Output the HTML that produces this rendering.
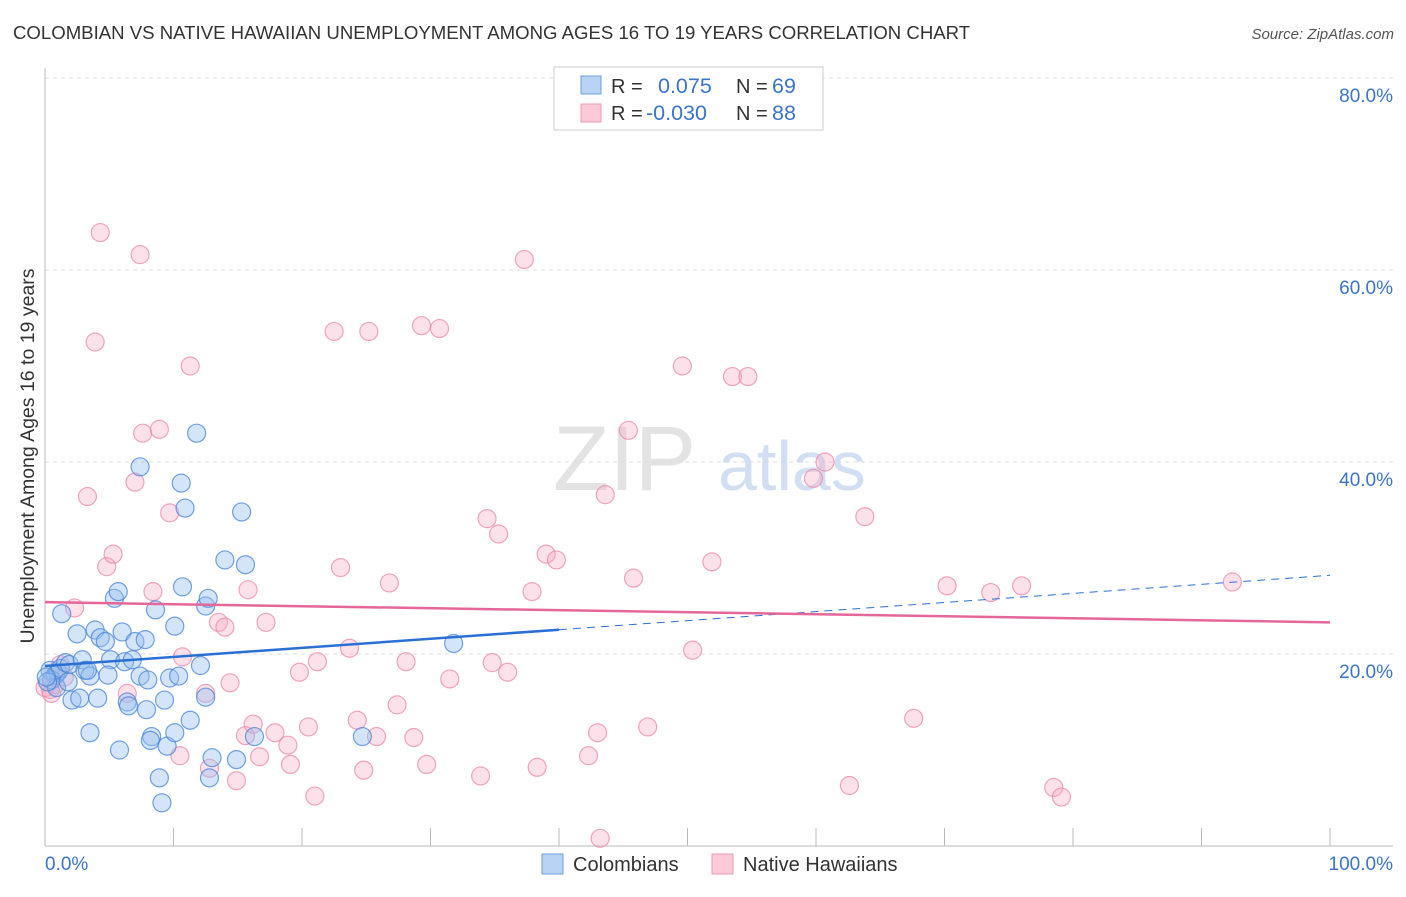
<!DOCTYPE html>
<html><head><meta charset="utf-8"><style>
body{margin:0;background:#fff;font-family:"Liberation Sans",sans-serif}
svg text{font-family:"Liberation Sans",sans-serif}
</style></head><body>
<svg id="chart" width="1406" height="892" viewBox="0 0 1406 892" xmlns="http://www.w3.org/2000/svg">
<text x="13" y="39" font-size="18.6" fill="#333">COLOMBIAN VS NATIVE HAWAIIAN UNEMPLOYMENT AMONG AGES 16 TO 19 YEARS CORRELATION CHART</text>
<text x="1394" y="39" font-size="15" fill="#555" text-anchor="end" font-style="italic">Source: ZipAtlas.com</text>
<g id="grid"></g>
<text x="553" y="490" font-size="92" fill="#ddd" font-family="Liberation Serif" opacity="0.8">ZIP</text>
<text x="718" y="490" font-size="70" fill="#c8d8ef" opacity="0.8">atlas</text>
<g id="pts"></g>
<g id="lines"></g>
<text transform="translate(34,456) rotate(-90)" font-size="19.5" fill="#333" text-anchor="middle">Unemployment Among Ages 16 to 19 years</text>
<text x="45" y="870" font-size="19" fill="#3b74c9">0.0%</text>
<text x="1393" y="870" font-size="19" fill="#3b74c9" text-anchor="end">100.0%</text>
<g>
<rect x="554" y="67" width="269" height="63" fill="#fff" stroke="#ccc"/>
<rect x="581" y="76" width="20" height="18" fill="#b9d3f4" stroke="#6d9ee0"/>
<rect x="581" y="104" width="20" height="18" fill="#fcc9d8" stroke="#ec9ab4"/>
<text x="611" y="93" font-size="20" fill="#333">R =</text>
<text x="658" y="93" font-size="21.5" fill="#3b74c9">0.075</text>
<text x="736" y="93" font-size="20" fill="#333">N =</text>
<text x="772" y="93" font-size="21.5" fill="#3b74c9">69</text>
<text x="611" y="120" font-size="20" fill="#333">R =</text>
<text x="646" y="120" font-size="21.5" fill="#3b74c9">-0.030</text>
<text x="736" y="120" font-size="20" fill="#333">N =</text>
<text x="772" y="120" font-size="21.5" fill="#3b74c9">88</text>
</g>
<g>
<rect x="542" y="854" width="21" height="20" fill="#b9d3f4" stroke="#6d9ee0"/>
<text x="573" y="871" font-size="20" fill="#333">Colombians</text>
<rect x="712" y="854" width="21" height="20" fill="#fcc9d8" stroke="#ec9ab4"/>
<text x="743" y="871" font-size="20" fill="#333">Native Hawaiians</text>
</g>
</svg>
<script>
const yTicks=[20,40,60,80];
const yTickLabels=["20.0%","40.0%","60.0%","80.0%"];
const xTicks=[10,20,30,40,50,60,70,80,90,100];
const blueX=[0.4,0.8,0.5,1.0,1.2,1.6,1.9,1.3,2.5,2.9,3.1,3.5,3.9,4.3,4.7,5.1,4.9,2.1,2.7,4.1,3.5,5.4,5.7,6.0,6.2,6.8,7.0,7.4,7.8,8.0,6.4,6.5,7.9,8.3,8.2,8.6,8.9,9.1,9.3,9.7,10.1,10.4,10.7,10.9,11.3,11.8,12.1,12.5,12.7,12.5,13.0,12.8,14.0,14.9,15.3,15.6,16.3,24.7,31.8,7.4,10.6,9.5,10.1,5.8,3.3,0.9,1.8,0.2,0.1];
const blueY=[18.3,17.8,17.3,18.1,18.5,19.1,18.9,24.2,22.1,19.4,18.3,17.7,22.5,21.7,21.3,19.4,17.8,15.2,15.4,15.4,11.8,25.8,26.5,22.3,19.2,19.4,21.3,17.7,21.5,17.3,15.0,14.6,14.2,11.4,11.0,24.6,7.1,4.5,15.2,17.5,22.9,17.7,27.0,35.2,13.1,43.0,18.8,25.0,25.8,15.5,9.2,7.1,29.8,9.0,34.8,29.3,11.4,11.4,21.1,39.5,37.8,10.4,11.8,10.0,18.3,16.5,17.1,17.1,17.6];
const pinkX=[0.4,0.8,1.2,2.3,3.3,3.9,4.3,4.8,5.3,6.4,7.0,7.4,7.6,8.4,8.9,9.7,10.5,10.7,11.3,12.5,12.8,13.5,14.0,14.4,14.9,15.6,15.8,16.2,16.7,17.2,17.9,18.9,19.1,19.8,20.5,21.0,21.2,22.5,23.0,23.7,24.3,24.8,25.2,25.8,26.8,27.4,28.1,28.7,29.3,29.7,30.7,31.5,33.9,34.4,34.8,35.3,36.0,37.3,37.9,38.3,39.0,39.8,42.3,43.0,43.2,43.6,45.4,45.8,46.9,49.6,50.4,51.9,53.5,54.7,59.8,60.7,62.6,63.8,67.6,70.2,73.6,76.0,78.5,79.1,92.4,0.0,0.5,1.5];
const pinkY=[16.3,16.8,18.9,24.8,36.4,52.5,63.9,29.1,30.4,15.9,37.9,61.6,43.0,26.5,43.4,34.7,9.4,19.7,50.0,15.9,8.1,23.3,22.8,17.0,6.8,11.5,26.7,12.7,9.3,23.3,11.8,10.5,8.5,18.1,12.4,5.2,19.2,53.6,29.0,20.6,13.1,7.9,53.6,11.4,27.4,14.7,19.2,11.3,54.2,8.5,53.9,17.4,7.3,34.1,19.1,32.5,18.1,61.1,26.5,8.2,30.4,29.8,9.4,11.8,0.8,36.6,43.3,27.9,12.4,50.0,20.4,29.6,48.9,48.9,38.3,40.0,6.3,34.3,13.3,27.1,26.4,27.1,6.1,5.1,27.5,16.5,15.9,17.6];
const blueTrend=[18.75,28.2];
const pinkTrend=[25.4,23.3];
const NS="http://www.w3.org/2000/svg";
const X0=45,X1=1330,Y0=846,PPY=9.6;
function sx(v){return X0+(X1-X0)*v/100;}
function sy(v){return Y0-v*PPY;}
function mk(tag,attrs,parent){const e=document.createElementNS(NS,tag);for(const k in attrs)e.setAttribute(k,attrs[k]);parent.appendChild(e);return e;}
const grid=document.getElementById('grid');
yTicks.forEach((t,i)=>{
  const l=mk('line',{x1:X0,x2:1393,y1:sy(t),y2:sy(t),stroke:'#ddd','stroke-dasharray':'4,4'},grid);
  
  
  const tx=mk('text',{x:1393,y:sy(t)+24,'font-size':19,fill:'#3b74c9','text-anchor':'end'},grid);
  tx.textContent=yTickLabels[i];
  
  
});
const ax=mk('line',{x1:X0,x2:X0,y1:68,y2:Y0,stroke:'#bbb'},grid);


const bx=mk('line',{x1:X0,x2:1393,y1:Y0,y2:Y0,stroke:'#bbb'},grid);


xTicks.forEach(t=>{
  const l=mk('line',{x1:sx(t),x2:sx(t),y1:828,y2:Y0,stroke:'#bbb'},grid);
  
  
});
const pts=document.getElementById('pts');
pinkX.forEach((v,i)=>{
  const c=mk('circle',{cx:sx(v),cy:sy(pinkY[i]),r:9,fill:'rgba(248,170,196,0.35)',stroke:'rgba(232,130,165,0.7)','stroke-width':1.2},pts);
  
  
});
blueX.forEach((v,i)=>{
  const c=mk('circle',{cx:sx(v),cy:sy(blueY[i]),r:9,fill:'rgba(150,190,240,0.4)',stroke:'rgba(70,130,215,0.75)','stroke-width':1.2},pts);
  
  
});
const lines=document.getElementById('lines');
const bm=blueTrend[0]+(blueTrend[1]-blueTrend[0])*0.4;
let l1=mk('line',{x1:sx(0),y1:sy(blueTrend[0]),x2:sx(40),y2:sy(bm),stroke:'#2a6fd6','stroke-width':2.5},lines);


let l2=mk('line',{x1:sx(40),y1:sy(bm),x2:sx(100),y2:sy(blueTrend[1]),stroke:'#2a6fd6','stroke-width':1,'stroke-dasharray':'8,6'},lines);


let l3=mk('line',{x1:sx(0),y1:sy(pinkTrend[0]),x2:sx(100),y2:sy(pinkTrend[1]),stroke:'#e5679a','stroke-width':2.5},lines);


</script>
</body></html>
